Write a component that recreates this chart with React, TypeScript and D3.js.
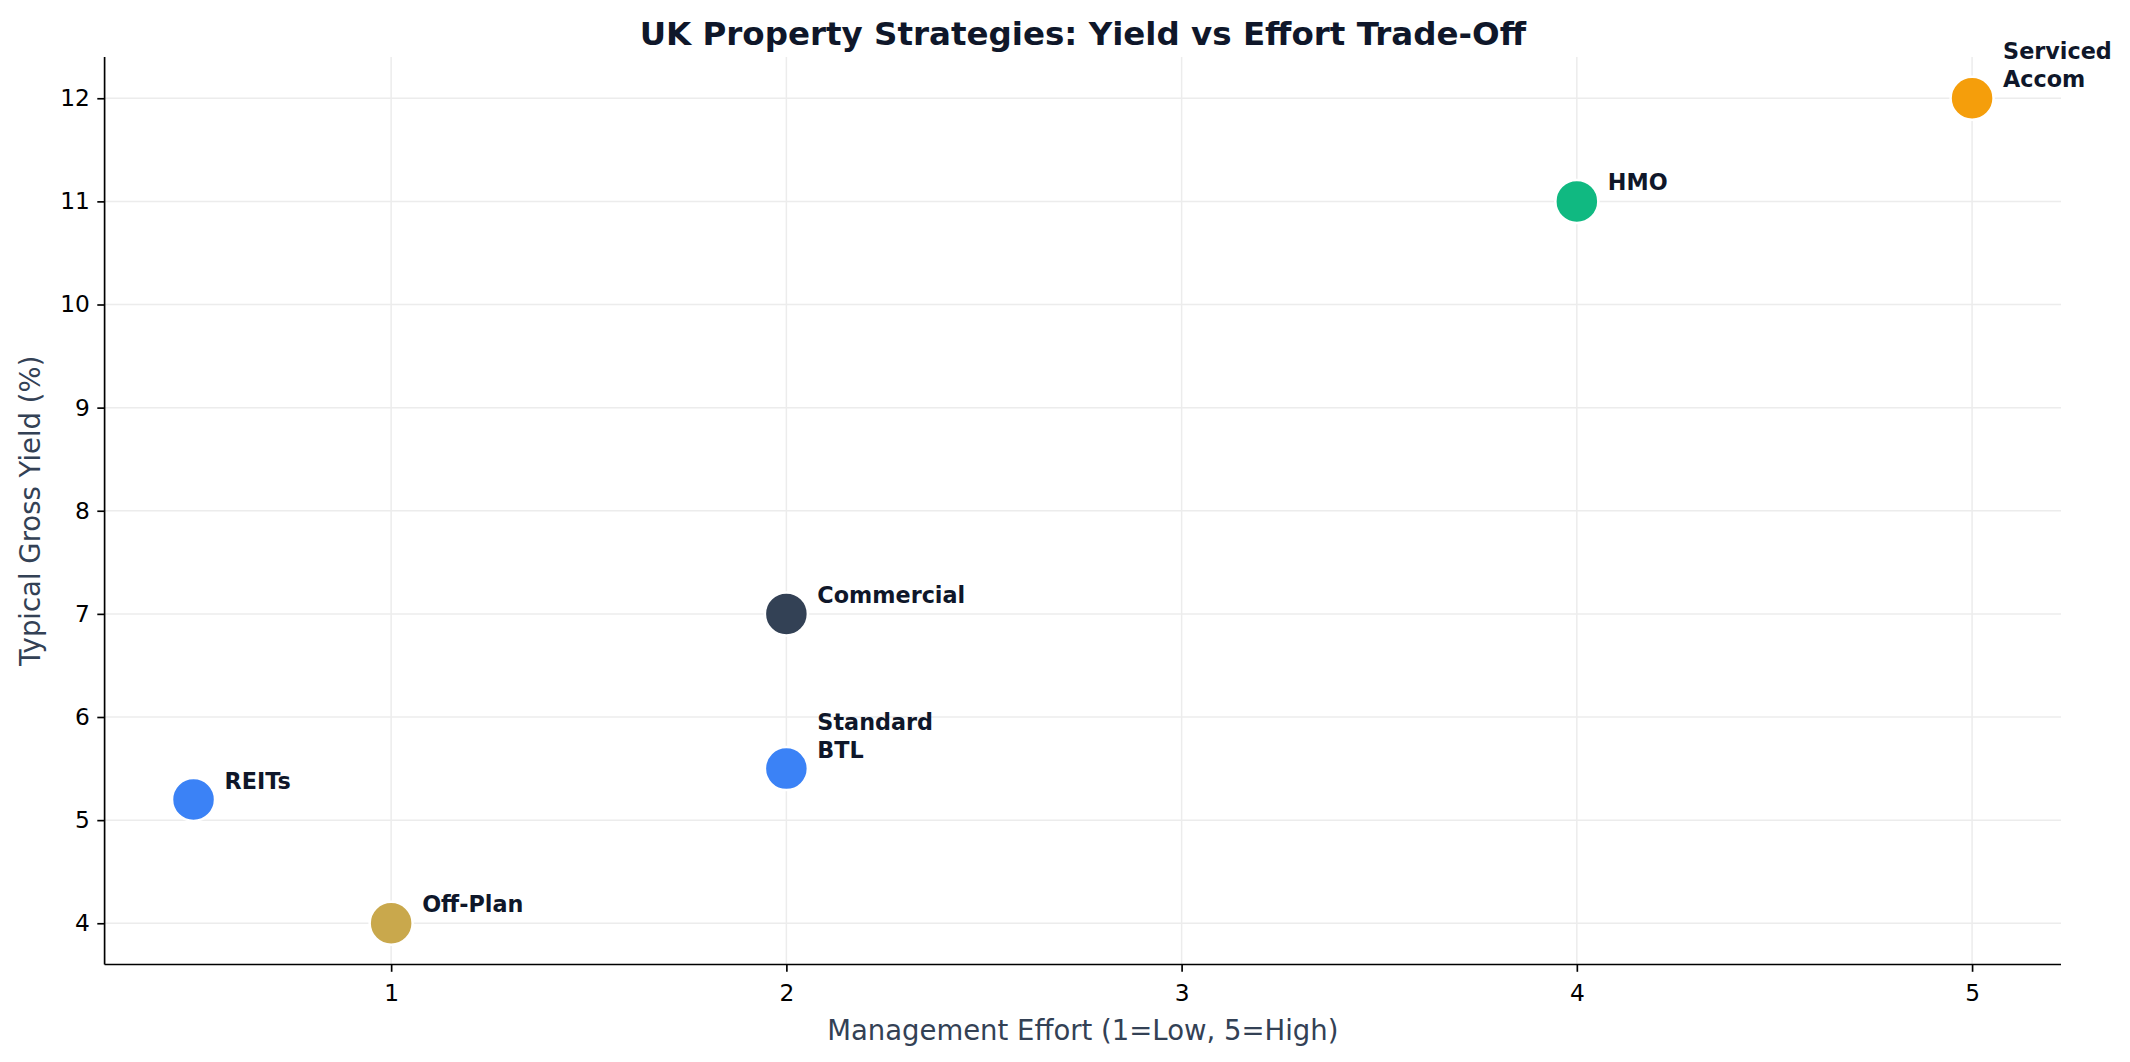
import React, { useEffect, useRef } from 'react';
import * as d3 from 'd3';

const strategies = ['REITs', 'Off-Plan', 'Standard\nBTL', 'Commercial', 'HMO', 'Serviced\nAccom'];
const effort = [0.5, 1, 2, 2, 4, 5];
const grossYield = [5.2, 4, 5.5, 7, 11, 12];
const pointColors = ['#3b82f6', '#c9a84c', '#3b82f6', '#334155', '#10b981', '#f59e0b'];
const xTicks = [1, 2, 3, 4, 5];
const yTicks = [4, 5, 6, 7, 8, 9, 10, 11, 12];

const FONT = 'DejaVu Sans, sans-serif';

const App: React.FC = () => {
  const svgRef = useRef<SVGSVGElement>(null);
  const width = 2130;
  const height = 1062;
  const margin = { top: 57, right: 69, bottom: 97.5, left: 104.6 };

  useEffect(() => {
    if (!svgRef.current) return;
    const svg = d3.select(svgRef.current);
    svg.selectAll('*').remove();

    const innerWidth = width - margin.left - margin.right;
    const innerHeight = height - margin.top - margin.bottom;

    // matplotlib-style 5% padding around data range
    const [xMin, xMax] = d3.extent(effort) as [number, number];
    const [yMin, yMax] = d3.extent(grossYield) as [number, number];
    const xPad = (xMax - xMin) * 0.05;
    const yPad = (yMax - yMin) * 0.05;

    const xScale = d3.scaleLinear().domain([xMin - xPad, xMax + xPad]).range([0, innerWidth]);
    const yScale = d3.scaleLinear().domain([yMin - yPad, yMax + yPad]).range([innerHeight, 0]);

    svg.append('rect').attr('width', width).attr('height', height).attr('fill', '#fff');

    // Title
    svg
      .append('text')
      .attr('x', margin.left + innerWidth / 2)
      .attr('y', 44.5)
      .attr('text-anchor', 'middle')
      .attr('font-size', '32.5px')
      .attr('font-weight', 'bold')
      .attr('font-family', FONT)
      .attr('fill', '#0f172a')
      .text('UK Property Strategies: Yield vs Effort Trade-Off');

    const g = svg.append('g').attr('transform', `translate(${margin.left},${margin.top})`);

    // Grid
    g.append('g')
      .selectAll('line')
      .data(xTicks)
      .enter()
      .append('line')
      .attr('x1', (d) => xScale(d))
      .attr('x2', (d) => xScale(d))
      .attr('y1', 0)
      .attr('y2', innerHeight)
      .attr('stroke', '#ececec')
      .attr('stroke-width', 1.5);

    g.append('g')
      .selectAll('line')
      .data(yTicks)
      .enter()
      .append('line')
      .attr('x1', 0)
      .attr('x2', innerWidth)
      .attr('y1', (d) => yScale(d))
      .attr('y2', (d) => yScale(d))
      .attr('stroke', '#ececec')
      .attr('stroke-width', 1.5);

    // Axes
    const xAxis = g
      .append('g')
      .attr('transform', `translate(0,${innerHeight})`)
      .call(d3.axisBottom(xScale).tickValues(xTicks).tickFormat((d) => String(d)).tickSize(7.3).tickPadding(12.5).tickSizeOuter(0));
    const yAxis = g
      .append('g')
      .call(d3.axisLeft(yScale).tickValues(yTicks).tickFormat((d) => String(d)).tickSize(7.3).tickPadding(7.5).tickSizeOuter(0));

    [xAxis, yAxis].forEach((ax) => {
      ax.select('.domain').attr('stroke', '#000').attr('stroke-width', 1.67);
      ax.selectAll('.tick line').attr('stroke', '#000').attr('stroke-width', 1.67);
      ax.selectAll('.tick text')
        .attr('font-size', '23.3px')
        .attr('font-family', FONT)
        .attr('fill', '#000');
    });
    // extend domain lines to the plot corners
    xAxis.select('.domain').attr('d', `M0,0H${innerWidth}`);
    yAxis.select('.domain').attr('d', `M0,0V${innerHeight}`);

    // Axis labels
    g.append('text')
      .attr('x', innerWidth / 2)
      .attr('y', innerHeight + 75)
      .attr('text-anchor', 'middle')
      .attr('font-size', '27.5px')
      .attr('font-family', FONT)
      .attr('fill', '#334155')
      .text('Management Effort (1=Low, 5=High)');

    g.append('text')
      .attr('transform', 'rotate(-90)')
      .attr('x', -innerHeight / 2)
      .attr('y', -margin.left + 40)
      .attr('text-anchor', 'middle')
      .attr('font-size', '27.5px')
      .attr('font-family', FONT)
      .attr('fill', '#334155')
      .text('Typical Gross Yield (%)');

    // Points
    const points = strategies.map((name, i) => ({
      name,
      x: effort[i],
      y: grossYield[i],
      color: pointColors[i],
    }));

    g.append('g')
      .selectAll('circle')
      .data(points)
      .enter()
      .append('circle')
      .attr('cx', (d) => xScale(d.x))
      .attr('cy', (d) => yScale(d.y))
      .attr('r', 21.5)
      .attr('fill', (d) => d.color)
      .attr('stroke', '#fff')
      .attr('stroke-width', 2.5);

    // Labels (offset right and up; last line's baseline anchored)
    const lineHeight = 28;
    const labels = g
      .append('g')
      .selectAll('text')
      .data(points)
      .enter()
      .append('text')
      .attr('font-size', '22.3px')
      .attr('font-weight', 'bold')
      .attr('font-family', FONT)
      .attr('fill', '#0f172a');

    labels.each(function (d) {
      const lines = d.name.split('\n');
      const t = d3.select(this);
      const x0 = xScale(d.x) + 31;
      const yBase = yScale(d.y) - 11 - (lines.length - 1) * lineHeight;
      lines.forEach((line, j) => {
        t.append('tspan')
          .attr('x', x0)
          .attr('y', yBase + j * lineHeight)
          .text(line);
      });
    });
  }, []);

  return (
    <div style={{ position: 'absolute', left: 0, top: 0 }}>
      <svg ref={svgRef} width={width} height={height} style={{ display: 'block' }} />
    </div>
  );
};

export default App;
